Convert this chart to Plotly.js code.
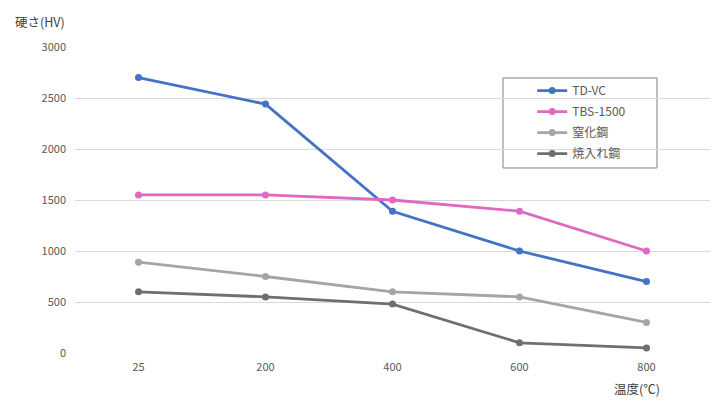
<!DOCTYPE html>
<html><head><meta charset="utf-8">
<script src="https://cdn.plot.ly/plotly-3.0.1.min.js"></script>
<style>body{margin:0;background:#fff}#c{width:723px;height:418px}</style>
</head><body><div id="c"></div>
<script>
const categories = ['25','200','400','600','800'];
const tdvc = [2700, 2440, 1390, 1000, 700];
const tbs1500 = [1550, 1550, 1500, 1390, 1000];
const nitrided = [890, 750, 600, 550, 300];
const quenched = [600, 550, 480, 100, 50];
const names = ['TD-VC','TBS-1500','窒化鋼','焼入れ鋼'];
const colors = ['#4472C4','#E068C2','#A5A5A5','#6F6F6F'];
const series = [tdvc, tbs1500, nitrided, quenched];
const font = '"Noto Sans CJK JP", "Noto Sans", sans-serif';
const traces = series.map((s,i)=>({
  x: categories, y: s, name: names[i], type:'scatter', mode:'lines+markers', legendgroup:'g'+i,
  line:{color:colors[i], width:2.8}, marker:{color:colors[i], size:7}
}));
const layout = {
  width:723, height:418, paper_bgcolor:'#fff', plot_bgcolor:'#fff',
  margin:{l:75, r:13, t:47, b:65},
  font:{family:font, size:11, color:'#595959'},
  showlegend:true,
  legend:{x:0.72, y:0.905, xanchor:'left', yanchor:'top', borderwidth:0,
    bgcolor:'rgba(0,0,0,0)', font:{family:font, size:12, color:'#595959'}, tracegroupgap:2, itemwidth:30},
  xaxis:{type:'category', range:[-0.5,4.5], showgrid:false, zeroline:false, showline:false, ticks:'',
    tickfont:{size:11, color:'#595959'}, ticklabelstandoff:6},
  yaxis:{range:[0,3000], dtick:500, showgrid:true, gridcolor:'#D9D9D9', gridwidth:1, zeroline:false,
    showline:false, ticks:'', tickfont:{size:11, color:'#595959'}, ticklabelstandoff:8},
  shapes:[
    {type:'rect', xref:'paper', yref:'paper', x0:0.674, x1:0.9165, y0:0.6046, y1:0.8987,
     line:{color:'#7F7F7F', width:1}, fillcolor:'rgba(0,0,0,0)', layer:'below'}
  ],
  annotations:[
    {text:'硬さ(HV)', xref:'paper', yref:'paper', x:-0.098, y:1.045, xanchor:'left', yanchor:'bottom',
     showarrow:false, font:{family:font, size:12.5, color:'#404040'}},
    {text:'温度(℃)', xref:'paper', yref:'paper', x:0.885, y:-0.08, xanchor:'center', yanchor:'top',
     showarrow:false, font:{family:font, size:12.5, color:'#404040'}}
  ]
};
Plotly.newPlot('c', traces, layout, {displayModeBar:false});
</script></body></html>
